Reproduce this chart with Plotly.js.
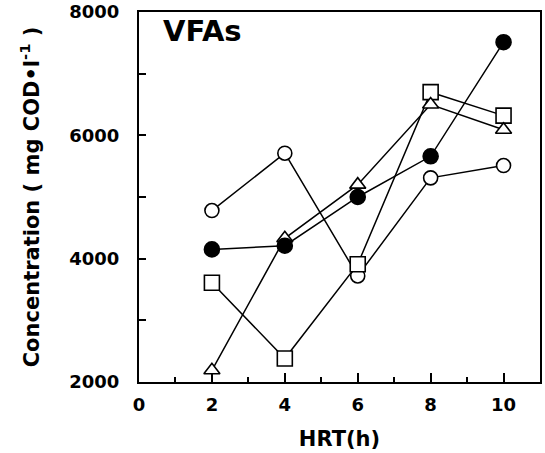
<!DOCTYPE html>
<html>
<head>
<meta charset="utf-8">
<script src="https://cdn.plot.ly/plotly-3.0.1.min.js"></script>
<style>html,body{margin:0;padding:0;background:#fff;}#chart{width:545px;height:453px;}</style>
</head>
<body>
<div id="chart"></div>
<script>
var hrt = [2, 4, 6, 8, 10];
var filledCircle = [4150, 4210, 5000, 5660, 7510];
var openCircle = [4780, 5710, 3720, 5310, 5510];
var openSquare = [3610, 2380, 3910, 6700, 6320];
var openTriangle = [2190, 4330, 5200, 6500, 6090];
var xTicks = [0, 2, 4, 6, 8, 10];
var yTicks = [2000, 4000, 6000, 8000];

var F = 'DejaVu Sans, Arial, sans-serif';
function tr(y, sym, size, fill) {
  return {
    x: hrt, y: y, type: 'scatter', mode: 'lines+markers',
    line: {color: '#000', width: 1.5},
    marker: {symbol: sym, size: size, color: fill, line: {color: '#000', width: 1.6}},
    showlegend: false, cliponaxis: false
  };
}
var data = [
  tr(openCircle, 'circle', 14, '#fff'),
  tr(openSquare, 'square', 15, '#fff'),
  tr(openTriangle, 'triangle-up', 14, '#fff'),
  tr(filledCircle, 'circle', 15, '#000')
];
var layout = {
  width: 545, height: 453,
  margin: {l: 139, r: 5, t: 12, b: 71},
  paper_bgcolor: '#fff', plot_bgcolor: '#fff',
  font: {family: F, color: '#000', weight: 'bold'},
  xaxis: {
    range: [0, 11], tickvals: xTicks, ticks: 'inside', ticklen: 9, tickwidth: 2,
    tickcolor: '#000', showline: true, mirror: true, linewidth: 2, linecolor: '#000',
    showgrid: false, zeroline: false,
    minor: {dtick: 1, ticks: 'inside', ticklen: 5, tickwidth: 2, tickcolor: '#000', showgrid: false},
    tickfont: {family: F, size: 18, weight: 'bold'},
    ticklabelstandoff: 5,
    title: {text: 'HRT(h)', font: {family: F, size: 21, weight: 'bold'}, standoff: 18}
  },
  yaxis: {
    range: [2000, 8000], tickvals: yTicks, ticks: 'inside', ticklen: 7, tickwidth: 2,
    tickcolor: '#000', showline: true, mirror: true, linewidth: 2, linecolor: '#000',
    showgrid: false, zeroline: false,
    minor: {dtick: 1000, ticks: 'inside', ticklen: 7, tickwidth: 2, tickcolor: '#000', showgrid: false},
    tickfont: {family: F, size: 18, weight: 'bold'},
    ticklabelstandoff: 14,
    title: {text: 'Concentration ( mg COD•l<sup>-1</sup> )', font: {family: F, size: 21, weight: 'bold'}, standoff: 24}
  },
  annotations: [{
    text: 'VFAs', xref: 'paper', yref: 'paper', x: 0.055, y: 0.949,
    xanchor: 'left', yanchor: 'middle', showarrow: false,
    font: {family: F, size: 29, weight: 'bold', color: '#000'}
  }]
};
Plotly.newPlot('chart', data, layout, {staticPlot: true, displayModeBar: false});
</script>
</body>
</html>
